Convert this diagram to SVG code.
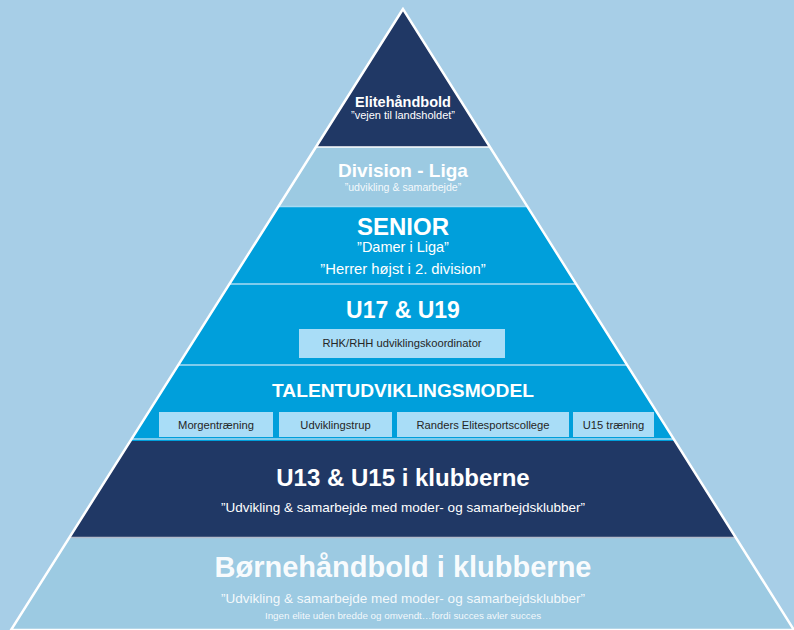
<svg xmlns="http://www.w3.org/2000/svg" width="794" height="630" viewBox="0 0 794 630">
<defs>
<clipPath id="pyr"><polygon points="403,9 11,630 794,630"/></clipPath>
<style>
.t{font-family:"Liberation Sans",Arial,sans-serif;fill:#ffffff;text-anchor:middle}
.b{font-weight:bold}
.box{fill:#a9ddf7}
.bt{font-family:"Liberation Sans",Arial,sans-serif;fill:#262626;text-anchor:middle;font-size:11.2px}
.sep{stroke:#ffffff;stroke-width:1.5}
.lsep{stroke:#a9daf2;stroke-width:1.5}
</style>
</defs>
<rect width="794" height="630" fill="#a7cee7"/>
<g clip-path="url(#pyr)">
<g id="elite"><rect x="0" y="0" width="794" height="147" fill="#203865"/></g>
<g id="division"><rect x="0" y="147" width="794" height="60" fill="#9ccae2"/></g>
<g id="senior"><rect x="0" y="207" width="794" height="77" fill="#009fdb"/></g>
<g id="u17"><rect x="0" y="284" width="794" height="81" fill="#009fdb"/></g>
<g id="talent"><rect x="0" y="365" width="794" height="76" fill="#009fdb"/></g>
<g id="u13"><rect x="0" y="441" width="794" height="97" fill="#203865"/></g>
<g id="born"><rect x="0" y="538" width="794" height="92" fill="#9ccae2"/></g>
<g id="separators">
<line class="sep" x1="0" y1="147" x2="794" y2="147"/>
<line class="lsep" x1="0" y1="206.5" x2="794" y2="206.5"/>
<line class="lsep" x1="0" y1="284" x2="794" y2="284"/>
<line class="lsep" x1="0" y1="365" x2="794" y2="365"/>
<line class="lsep" x1="0" y1="439" x2="794" y2="439"/>
<line stroke="#b3bccb" stroke-width="1.5" x1="0" y1="537.5" x2="794" y2="537.5"/>
</g>
</g>
<polygon points="403,9 11,630 794,630" fill="none" stroke="#ffffff" stroke-width="2.5"/>

<g id="elite-text">
<text class="t b" x="403" y="107" font-size="14.5">Elitehåndbold</text>
<text class="t" x="403" y="119" font-size="11">”vejen til landsholdet”</text>
</g>
<g id="division-text">
<text class="t b" x="403" y="177" font-size="19">Division - Liga</text>
<text class="t" x="403" y="191" font-size="10.6" fill-opacity="0.9">”udvikling &amp; samarbejde”</text>
</g>
<g id="senior-text">
<text class="t b" x="403" y="235" font-size="24">SENIOR</text>
<text class="t" x="403" y="252" font-size="14.5">”Damer i Liga”</text>
<text class="t" x="403" y="274" font-size="14.8">”Herrer højst i 2. division”</text>
</g>
<g id="u17-text">
<text class="t b" x="403" y="318" font-size="23">U17 &amp; U19</text>
<g id="rhk">
<rect class="box" x="299" y="329" width="206" height="29"/>
<text class="bt" x="402" y="347">RHK/RHH udviklingskoordinator</text>
</g>
</g>
<g id="talent-text">
<text class="t b" x="403" y="397" font-size="19.2">TALENTUDVIKLINGSMODEL</text>
<g id="morgen"><rect class="box" x="159" y="412" width="114" height="25"/><text class="bt" x="216" y="429">Morgentræning</text></g>
<g id="udviklingstrup"><rect class="box" x="279" y="412" width="113" height="25"/><text class="bt" x="335.5" y="429">Udviklingstrup</text></g>
<g id="randers"><rect class="box" x="397" y="412" width="172" height="25"/><text class="bt" x="483" y="429">Randers Elitesportscollege</text></g>
<g id="u15"><rect class="box" x="573" y="412" width="81" height="25"/><text class="bt" x="613.5" y="429">U15 træning</text></g>
</g>
<g id="u13-text">
<text class="t b" x="403" y="486" font-size="24">U13 &amp; U15 i klubberne</text>
<text class="t" x="403" y="512" font-size="13.5">”Udvikling &amp; samarbejde med moder- og samarbejdsklubber”</text>
</g>
<g id="born-text">
<text class="t b" x="403" y="577" font-size="29" fill-opacity="0.95">Børnehåndbold i klubberne</text>
<text class="t" x="403" y="603" font-size="13.5" fill-opacity="0.9">”Udvikling &amp; samarbejde med moder- og samarbejdsklubber”</text>
<text class="t" x="403" y="619" font-size="9.8" fill-opacity="0.9">Ingen elite uden bredde og omvendt…fordi succes avler succes</text>
</g>
</svg>
